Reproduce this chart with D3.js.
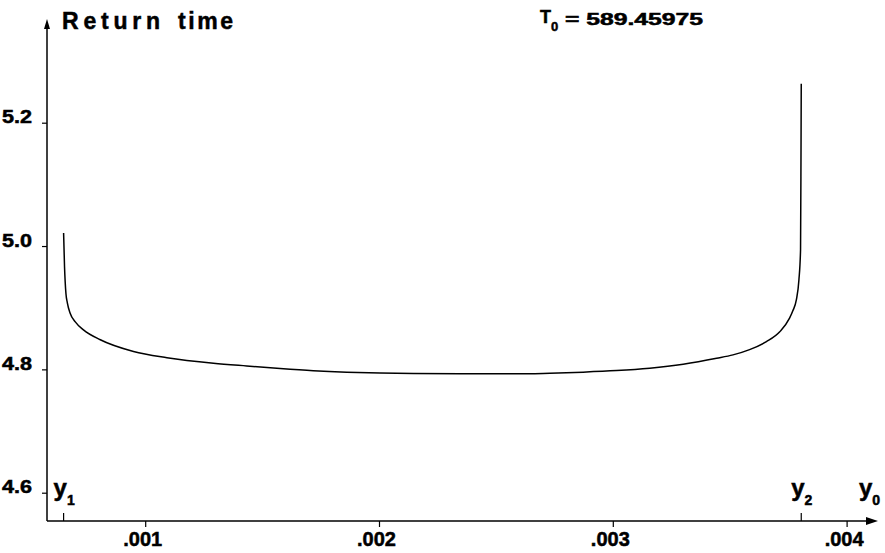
<!DOCTYPE html>
<html>
<head>
<meta charset="utf-8">
<script src="https://cdn.jsdelivr.net/npm/d3@7"></script>
<style>
  body { margin: 0; background: #fff; }
  svg { display: block; }
  text { font-family: "Liberation Sans", Arial, sans-serif; font-weight: bold; fill: #000; stroke: #000; stroke-width: 0.5; }
</style>
</head>
<body>
<svg></svg>
<script>
// initial amplitude y0 and the return time
var y0Values = [0.000651, 0.000655, 0.000661, 0.000667, 0.000679, 0.000701, 0.000736, 0.000808,
  0.000950, 0.001093, 0.001292, 0.001434, 0.001577, 0.001719, 0.001862, 0.002004, 0.002147,
  0.002346, 0.002588, 0.002731, 0.002873, 0.003016, 0.003158, 0.003301, 0.003444, 0.003514,
  0.003585, 0.003657, 0.003714, 0.003756, 0.003770, 0.003785, 0.003796, 0.003803, 0.003805, 0.003806];
var returnTimes = [5.021, 4.966, 4.923, 4.908, 4.891, 4.877, 4.864, 4.848,
  4.829, 4.819, 4.810, 4.8055, 4.8013, 4.7978, 4.7955, 4.7942, 4.7932,
  4.7927, 4.7927, 4.7938, 4.7955, 4.798, 4.802, 4.8084, 4.818, 4.8235,
  4.832, 4.845, 4.861, 4.883, 4.895, 4.9125, 4.945, 4.994, 5.155, 5.263];

var xTicks = [0.001, 0.002, 0.003, 0.004];
var yTicks = [4.6, 4.8, 5.0, 5.2];
var markers = [{name: "1", value: 0.000651}, {name: "2", value: 0.003806}];
var titleWords = ["Return", "time"];
var periodText = "589.45975";

var screen = {width: 885, height: 553};
var svg = d3.select("svg")
  .attr("width", screen.width)
  .attr("height", screen.height);

var xScale = d3.scaleLinear()
  .domain([0.00058, 0.00413])
  .range([47, 877]);

var yScale = d3.scaleLinear()
  .domain([4.6, 5.2])
  .range([492.7, 122.7]);

var axisY = 521;   // where the y0 axis sits
var axisTop = 19;  // tip of the vertical arrow

// axis lines with arrow heads
svg.append("line")
  .attr("x1", xScale.range()[0]).attr("x2", xScale.range()[0])
  .attr("y1", axisY).attr("y2", axisTop + 6)
  .attr("stroke", "#000").attr("stroke-width", 1.5);
svg.append("path")
  .attr("d", "M" + xScale.range()[0] + "," + axisTop + "l-3,10l6,0z")
  .attr("fill", "#000");

svg.append("line")
  .attr("x1", xScale.range()[0]).attr("x2", xScale.range()[1] - 6)
  .attr("y1", axisY).attr("y2", axisY)
  .attr("stroke", "#000").attr("stroke-width", 1.5);
svg.append("path")
  .attr("d", "M" + (xScale.range()[1] + 1) + "," + axisY + "l-12,-4l0,8z")
  .attr("fill", "#000");

// y axis ticks
var yAxis = d3.axisLeft(yScale)
  .tickValues(yTicks)
  .tickSize(5)
  .tickPadding(10)
  .tickFormat(d3.format(".1f"));

var yG = svg.append("g")
  .attr("transform", "translate(" + xScale.range()[0] + ",0)")
  .call(yAxis);
yG.select(".domain").remove();
yG.selectAll("line").attr("stroke-width", 1.2);
yG.selectAll("text")
  .attr("dy", 0)
  .attr("font-size", 18)
  .attr("textLength", 30)
  .attr("lengthAdjust", "spacingAndGlyphs");

// x axis ticks
var xAxis = d3.axisBottom(xScale)
  .tickValues(xTicks)
  .tickSize(6)
  .tickPadding(5)
  .tickFormat(function(d){ return d3.format(".3f")(d).replace(/^0/, ""); });

var xG = svg.append("g")
  .attr("transform", "translate(0," + axisY + ")")
  .call(xAxis);
xG.select(".domain").remove();
xG.selectAll("line").attr("stroke-width", 1.2);
xG.selectAll("text")
  .attr("font-size", 20)
  .attr("dx", -3);

// y1, y2 marks pointing up
var markG = svg.append("g");
markG.selectAll("line")
  .data(markers)
  .enter()
  .append("line")
  .attr("x1", function(d){ return xScale(d.value); })
  .attr("x2", function(d){ return xScale(d.value); })
  .attr("y1", axisY).attr("y2", axisY - 8)
  .attr("stroke", "#000").attr("stroke-width", 1.2);

var markText = markG.selectAll("text")
  .data(markers)
  .enter()
  .append("text")
  .attr("x", function(d){ return xScale(d.value) - 10; })
  .attr("y", 496)
  .attr("font-size", 24);
markText.append("tspan").text("y");
markText.append("tspan")
  .attr("dy", 9)
  .attr("font-size", 14)
  .text(function(d){ return d.name; });

// y0 axis name
var axisName = svg.append("text")
  .attr("x", 859)
  .attr("y", 496)
  .attr("font-size", 24);
axisName.append("tspan").text("y");
axisName.append("tspan").attr("dy", 9).attr("font-size", 14).text("0");

// title and period
svg.selectAll(".title")
  .data(titleWords)
  .enter()
  .append("text")
  .attr("class", "title")
  .attr("x", function(d, i){ return i === 0 ? 62 : 178; })
  .attr("y", 29)
  .attr("font-size", 23)
  .attr("textLength", function(d, i){ return i === 0 ? 98 : 55; })
  .attr("lengthAdjust", "spacing")
  .text(function(d){ return d; });

var period = svg.append("text")
  .attr("x", 540)
  .attr("y", 23)
  .attr("font-size", 18);
period.append("tspan").text("T");
period.append("tspan").attr("dy", 8).attr("font-size", 13).text("0");
period.append("tspan")
  .attr("x", 565)
  .attr("y", 25)
  .attr("font-size", 16)
  .attr("textLength", 138)
  .attr("lengthAdjust", "spacingAndGlyphs")
  .text("= " + periodText);

// the curve
var points = y0Values.map(function(v, i){ return [v, returnTimes[i]]; });

var line = d3.line()
  .x(function(d){ return xScale(d[0]); })
  .y(function(d){ return yScale(d[1]); })
  .curve(d3.curveMonotoneX);

svg.append("path")
  .datum(points)
  .attr("d", line)
  .attr("fill", "none")
  .attr("stroke", "#000")
  .attr("stroke-width", 1.5);
</script>
</body>
</html>
